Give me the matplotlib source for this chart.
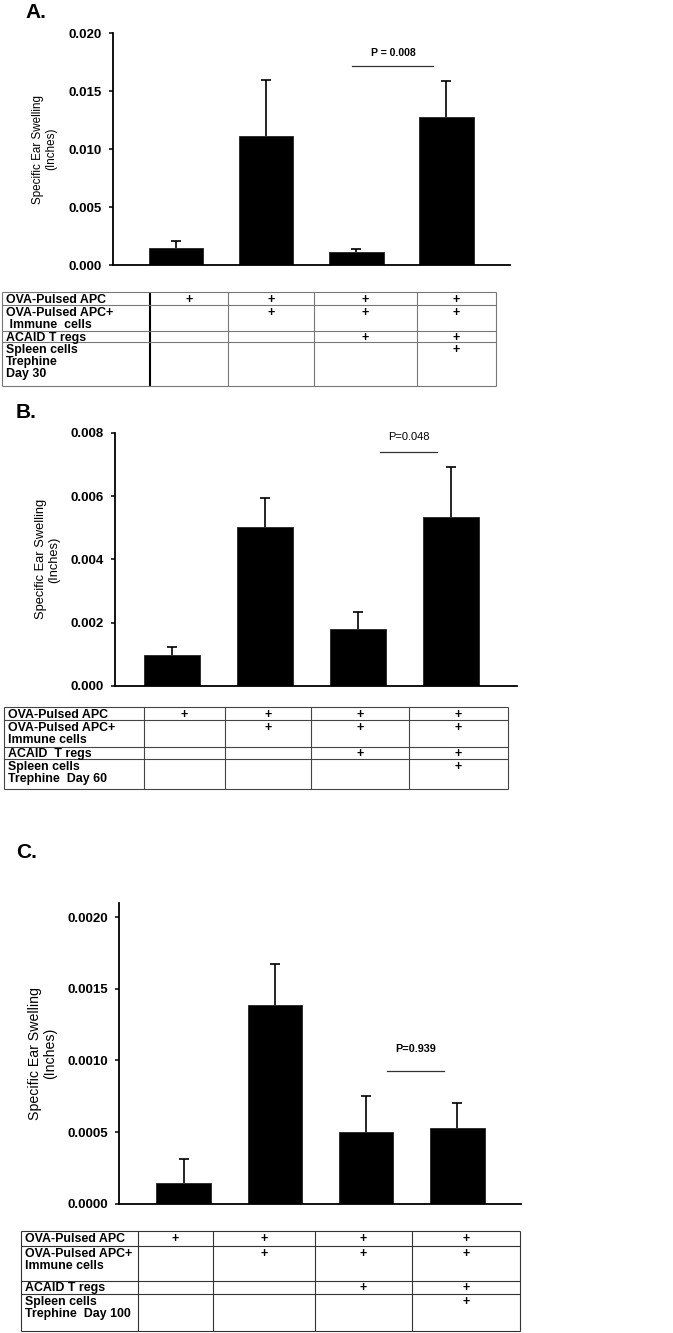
import numpy as np
import matplotlib
matplotlib.use("Agg")
import matplotlib.pyplot as plt
from matplotlib import font_manager

# ---- data ----
a_mean = [0.00144, 0.01115, 0.00110, 0.01276]
a_err = [0.00063, 0.00480, 0.00030, 0.00314]
b_mean = [0.00097, 0.00503, 0.00181, 0.00535]
b_err = [0.00027, 0.00092, 0.00052, 0.00157]
c_mean = [0.000147, 0.001385, 0.000503, 0.000531]
c_err = [0.000163, 0.000289, 0.000245, 0.000175]

a_rows = ["OVA-Pulsed APC", "OVA-Pulsed APC+\n Immune  cells", "ACAID T regs",
          "Spleen cells\nTrephine\nDay 30"]
b_rows = ["OVA-Pulsed APC", "OVA-Pulsed APC+\nImmune cells", "ACAID  T regs",
          "Spleen cells\nTrephine  Day 60"]
c_rows = ["OVA-Pulsed APC", "OVA-Pulsed APC+\nImmune cells", "ACAID T regs",
          "Spleen cells\nTrephine  Day 100"]
# which treatment each group got (rows x groups)
marks = [[1, 1, 1, 1],
         [0, 1, 1, 1],
         [0, 0, 1, 1],
         [0, 0, 0, 1]]

ylabel = "Specific Ear Swelling\n(Inches)"

names = {f.name for f in font_manager.fontManager.ttflist}
NARROW = "Liberation Sans Narrow" if "Liberation Sans Narrow" in names else "Liberation Sans"
plt.rcParams["font.family"] = ["Liberation Sans", "DejaVu Sans"]

W, H = 673, 1333
fig = plt.figure(figsize=(W / 100, H / 100), dpi=100)


def px_axes(x0, y0, x1, y1):
    return fig.add_axes([x0 / W, 1 - y1 / H, (x1 - x0) / W, (y1 - y0) / H])


def panel(box, ylim, ticks, fmt, means, errs, width, xlim, sig, lab_x, lab_size):
    ax = px_axes(*box)
    x = np.arange(len(means))
    ax.bar(x, means, width, color="black", edgecolor="#222222", linewidth=0.6, zorder=2)
    eb = ax.errorbar(x, means, yerr=[np.zeros(len(errs)), errs], fmt="none", ecolor="black",
                     elinewidth=1.2, capsize=3.5, capthick=1.2, zorder=1)
    eb[1][0].set_visible(False)  # only the upper cap
    ax.set_xlim(*xlim)
    ax.set_ylim(*ylim)
    ax.set_xticks([])
    ax.set_yticks(ticks)
    ax.set_yticklabels([fmt.format(t) for t in ticks], fontsize=9.5, fontweight="bold")
    ax.tick_params(axis="y", direction="out", length=3, width=1.1, pad=5)
    for s in ("top", "right"):
        ax.spines[s].set_visible(False)
    for s in ("left", "bottom"):
        ax.spines[s].set_linewidth(1.3)
    ax.set_ylabel(ylabel, fontsize=lab_size, linespacing=1.1)
    ax.yaxis.set_label_coords(lab_x, 0.5)
    text, x0, x1, yl, yt, weight, tsize = sig
    ax.plot([x0, x1], [yl, yl], color="#333333", lw=0.9)
    ax.text((x0 + x1) / 2, yt, text, ha="center", va="center", fontsize=tsize, fontweight=weight)
    return ax


panel((113, 33.3, 510, 265), (0, 0.020), np.arange(0, 0.0201, 0.005), "{:.3f}",
      a_mean, a_err, 0.61, (-0.70, 3.71),
      ("P = 0.008", 1.96, 2.86, 0.0172, 0.0183, "bold", 7.5), -0.141, 8.4)
panel((115, 432.7, 517, 686), (0, 0.008), np.arange(0, 0.00801, 0.002), "{:.3f}",
      b_mean, b_err, 0.60, (-0.61, 3.71),
      ("P=0.048", 2.24, 2.85, 0.0074, 0.00787, "normal", 8), -0.137, 9.3)
panel((119, 902.7, 521, 1203.7), (0, 0.0021), np.arange(0, 0.00201, 0.0005), "{:.4f}",
      c_mean, c_err, 0.60, (-0.71, 3.70),
      ("P=0.939", 2.23, 2.85, 0.000923, 0.00108, "bold", 7.8), -0.154, 10.2)

# overlay in pixel coordinates for panel letters and the treatment tables
over = fig.add_axes([0, 0, 1, 1])
over.set_xlim(0, W)
over.set_ylim(H, 0)
over.axis("off")

over.text(25, 12, "A.", fontsize=15, fontweight="bold", family=NARROW, va="center")
over.text(16, 413, "B.", fontsize=15, fontweight="bold", va="center")
over.text(16, 853, "C.", fontsize=15, fontweight="bold", family=NARROW, va="center")


def table(cols, rows, labels, color="#555555", lw=0.8, strong_col=False, step=12.3):
    for i, xv in enumerate(cols):
        c, w = (("black", 1.5) if (strong_col and i == 1) else (color, lw))
        over.plot([xv, xv], [rows[0], rows[-1]], color=c, lw=w, solid_capstyle="butt")
    for yv in rows:
        over.plot([cols[0], cols[-1]], [yv, yv], color=color, lw=lw, solid_capstyle="butt")
    for i, lab in enumerate(labels):
        base = rows[i] + 10.6
        for k, line in enumerate(lab.split("\n")):
            over.text(cols[0] + 4, base + k * step, line, ha="left", va="baseline",
                      fontsize=8.9, fontweight="bold")
        for j in range(4):
            if marks[i][j]:
                over.text((cols[j + 1] + cols[j + 2]) / 2, base, "+", ha="center",
                          va="baseline", fontsize=8.9, fontweight="bold")


table([2, 150, 228, 314, 417, 496], [292.3, 305, 330.7, 342.3, 385.7], a_rows,
      color="#777777", strong_col=True)
table([4, 144, 225, 311, 409, 508], [707, 720, 746.7, 759.3, 789.3], b_rows, color="#444444")
table([21, 138, 213, 315, 412, 520], [1231.3, 1246, 1280.7, 1294.3, 1330.7], c_rows,
      color="#333333")

fig.savefig("out.png", dpi=100)
